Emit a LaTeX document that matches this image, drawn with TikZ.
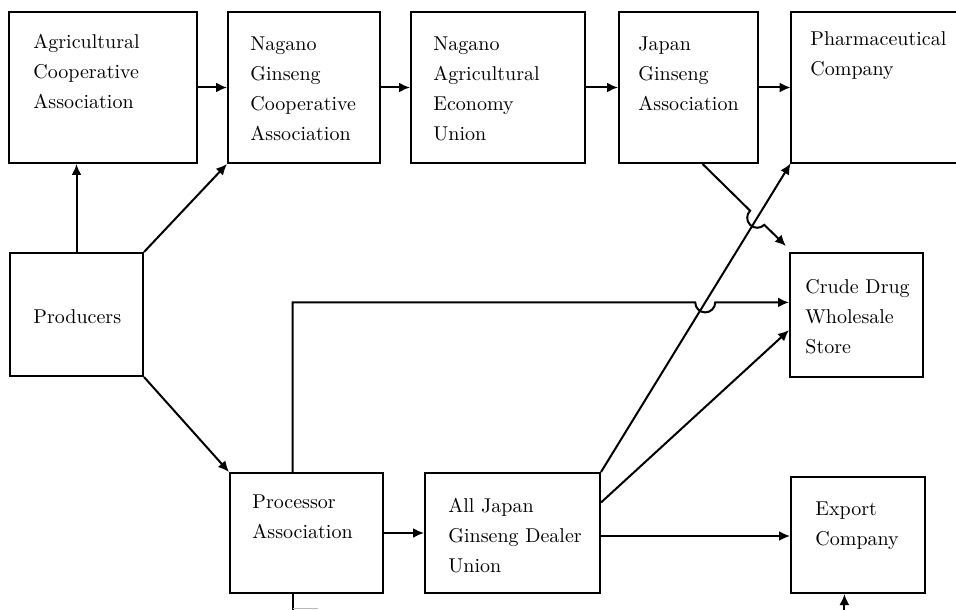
\documentclass[tikz,border=0pt]{standalone}
\usetikzlibrary{arrows.meta,calc,intersections}
\begin{document}
\begin{tikzpicture}[x=0.5pt,y=0.5pt,
  box/.style={draw, line width=1pt, inner sep=0pt, rectangle},
  ghost/.style={draw=none, inner sep=0pt, rectangle},
  txt/.style={anchor=north west, inner sep=0pt, align=left, font=\fontsize{10}{15}\selectfont},
  conn/.style={line width=1pt},
  arr/.style={conn, -{Latex[length=5.5pt,width=5pt]}}
]
\useasboundingbox (0,0) rectangle (956,-609);

% boxes
\node[box, minimum width=94pt, minimum height=75.5pt] (agri) at (103,-87.5) {};
\node[box, minimum width=76pt, minimum height=75.5pt] (ngc) at (304,-87.5) {};
\node[box, minimum width=87pt, minimum height=75.5pt] (nae) at (498,-87.5) {};
\node[box, minimum width=69.5pt, minimum height=75.5pt] (jga) at (688.5,-87.5) {};
\node[ghost, minimum width=84.5pt, minimum height=75.5pt] (pharma) at (875.5,-87.5) {};
\draw[line width=1pt] (pharma.north east) -- (pharma.north west) -- (pharma.south west) -- (pharma.south east);
\node[box, minimum width=66.5pt, minimum height=61.5pt] (prod) at (76.5,-314.5) {};
\node[box, minimum width=66.5pt, minimum height=62pt] (crude) at (856.5,-315) {};
\node[box, minimum width=76.5pt, minimum height=60pt] (proc) at (306.5,-533) {};
\node[box, minimum width=87.5pt, minimum height=60pt] (allj) at (512.5,-533) {};
\node[box, minimum width=67pt, minimum height=58pt] (export) at (858,-535) {};

% texts
\node[txt] (tagri) at (33,-34) {Agricultural\\Cooperative\\Association};
\node[txt] (tngc) at (250,-36) {Nagano\\Ginseng\\Cooperative\\Association};
\node[txt] (tnae) at (433,-36) {Nagano\\Agricultural\\Economy\\Union};
\node[txt] (tjga) at (638,-36) {Japan\\Ginseng\\Association};
\node[txt] (tph) at (810,-31) {Pharmaceutical\\Company};
\node[txt] (tprod) at (33,-309) {Producers};
\node[txt] (tcr) at (805,-279) {Crude Drug\\Wholesale\\Store};
\node[txt] (tproc) at (252,-494) {Processor\\Association};
\node[txt] (tall) at (448,-498) {All Japan\\Ginseng Dealer\\Union};
\node[txt] (texp) at (815,-501) {Export\\Company};

% connectors
\draw[arr] (prod.north) -- (prod.north |- agri.south);
\draw[arr] (prod.north east) -- (ngc.south west);
\draw[arr] (prod.south east) -- (proc.north west);
\draw[arr] (agri) -- (ngc);
\draw[arr] (ngc) -- (nae);
\draw[arr] (nae) -- (jga);
\draw[arr] (jga) -- (pharma);
\draw[arr] (proc) -- (allj);
\coordinate (ae) at ($(allj.east)+(0,-3)$);
\draw[arr] (ae) -- (ae -| export.west);

\path[name path=ap] (allj.north east) -- (pharma.south west);
\draw[arr] (allj.north east) -- (pharma.south west);

\coordinate (a2) at ($(allj.north east)!0.25!(allj.south east)$);
\coordinate (c2) at ($(crude.north west)!0.62!(crude.south west)$);
\draw[arr] (a2) -- (c2);

% Japan Ginseng Association -> Crude Drug, jumping over
\coordinate (j1) at ($(jga.south west)!0.6!(jga.south east)$);
\coordinate (c1) at ($(crude.north west)+(-3,6)$);
\path[name path=jc] (j1) -- (c1);
\path[name intersections={of=ap and jc, by=x1}];
\draw[arr] (j1) -- ($(x1)!5pt!(j1)$) arc[start angle=135, end angle=315, radius=5pt] -- (c1);

% Processor -> Crude Drug, jumping over
\coordinate (p1) at ($(proc.north west)!0.41!(proc.north east)$);
\coordinate (c3) at ($(crude.north west)!0.4!(crude.south west)$);
\path[name path=hz] (p1) |- (c3);
\path[name intersections={of=ap and hz, by=x2}];
\draw[arr] (p1) |- ($(x2)+(-10,0)$) arc[start angle=180, end angle=360, radius=5pt] -- (c3);

% bottom (cut off) connector
\coordinate (p2) at (p1 |- proc.south);
\draw[conn] (p2) -- ++(0,-22);
\draw[gray!55, line width=0.6pt] ($(p2)+(0,-14.5)$) -- ++(25,0);
\coordinate (e1) at ($(export.south west)!0.4!(export.south east)$);
\draw[arr] ($(e1)+(0,-22)$) -- (e1);
\end{tikzpicture}
\end{document}
